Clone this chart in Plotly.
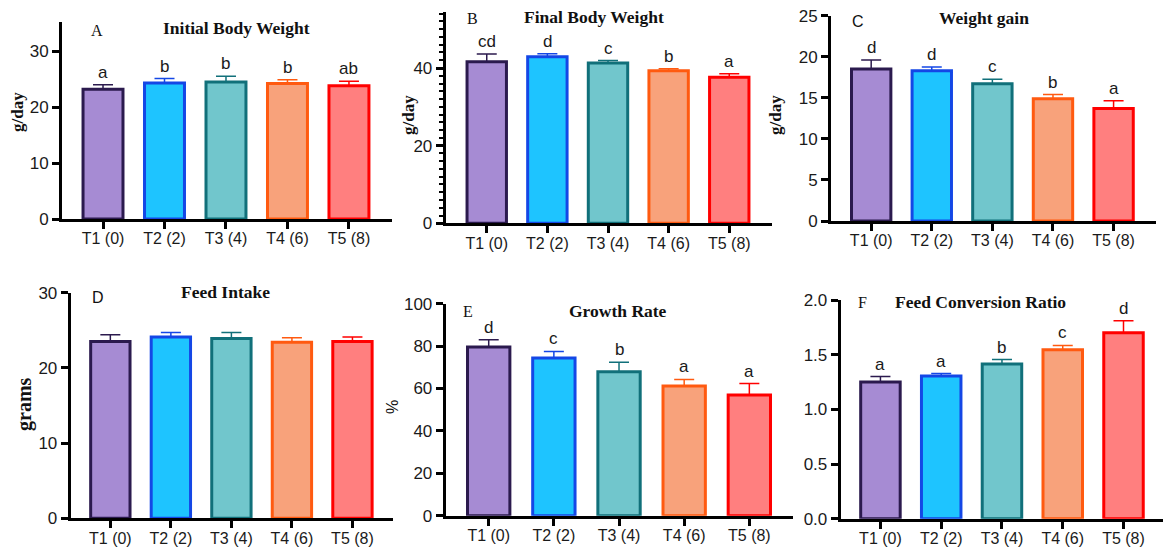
import plotly.graph_objects as go

W, H = 1165, 548

categories = ["T1 (0)", "T2 (2)", "T3 (4)", "T4 (6)", "T5 (8)"]

ibw_mean = [23.2, 24.3, 24.5, 24.2, 23.8]
ibw_err = [0.8, 0.8, 1.0, 0.7, 0.8]
ibw_letters = ["a", "b", "b", "b", "ab"]

fbw_mean = [41.6, 42.9, 41.3, 39.3, 37.6]
fbw_err = [2.0, 0.8, 0.6, 0.5, 0.9]
fbw_letters = ["cd", "d", "c", "b", "a"]

wg_mean = [18.5, 18.3, 16.7, 14.9, 13.7]
wg_err = [1.1, 0.45, 0.55, 0.5, 0.95]
wg_letters = ["d", "d", "c", "b", "a"]

fi_mean = [23.5, 24.1, 23.9, 23.4, 23.5]
fi_err = [0.9, 0.6, 0.8, 0.6, 0.6]
fi_letters = ["", "", "", "", ""]

gr_mean = [79.6, 74.4, 67.9, 61.2, 56.9]
gr_err = [3.4, 3.1, 4.5, 3.1, 5.4]
gr_letters = ["d", "c", "b", "a", "a"]

fcr_mean = [1.25, 1.305, 1.415, 1.545, 1.70]
fcr_err = [0.05, 0.022, 0.04, 0.04, 0.11]
fcr_letters = ["a", "a", "b", "c", "d"]

fill_colors = ["#A68BD3", "#1EC4FF", "#71C6CC", "#F8A27B", "#FF7F7F"]
line_colors = ["#2B1A4E", "#1447E6", "#11707A", "#FF5A10", "#FF0000"]

SANS = "Liberation Sans, Arial, sans-serif"
SERIF = "Liberation Serif, Times New Roman, serif"

def px_x(p):
    return p / W

def px_y(p):
    return 1 - p / H

panels = [
    dict(mean=ibw_mean, err=ibw_err, letters=ibw_letters, box=(62, 392, 22, 219),
         yr=[0, 35.2], xr=[-0.667, 4.70], dtick=10, minor=None, fmt=None),
    dict(mean=fbw_mean, err=fbw_err, letters=fbw_letters, box=(445.7, 771.7, 11.7, 223.3),
         yr=[0, 54.5], xr=[-0.677, 4.70], dtick=20, minor=2, fmt=None),
    dict(mean=wg_mean, err=wg_err, letters=wg_letters, box=(831, 1156, 15.7, 221),
         yr=[0, 25], xr=[-0.663, 4.70], dtick=5, minor=None, fmt=None),
    dict(mean=fi_mean, err=fi_err, letters=fi_letters, box=(70.7, 393, 292.7, 518.3),
         yr=[0, 30], xr=[-0.655, 4.67], dtick=10, minor=None, fmt=None),
    dict(mean=gr_mean, err=gr_err, letters=gr_letters, box=(445.7, 793, 303.7, 515.7),
         yr=[0, 100], xr=[-0.66, 4.67], dtick=20, minor=None, fmt=None),
    dict(mean=fcr_mean, err=fcr_err, letters=fcr_letters, box=(840.7, 1163, 300, 518.7),
         yr=[0, 2.0], xr=[-0.654, 4.65], dtick=0.5, minor=None, fmt=".1f"),
]

fig = go.Figure()
annotations = []
layout = dict(
    width=W, height=H, margin=dict(l=0, r=0, t=0, b=0, pad=0, autoexpand=False),
    paper_bgcolor="white", plot_bgcolor="white", showlegend=False,
    barmode="overlay",
)

for i, p in enumerate(panels):
    n = i + 1
    xa = "x" if n == 1 else f"x{n}"
    ya = "y" if n == 1 else f"y{n}"
    for j, cat in enumerate(categories):
        fig.add_trace(go.Bar(
            x=[cat], y=[p["mean"][j]], xaxis=xa, yaxis=ya, width=0.65,
            marker=dict(color=fill_colors[j], line=dict(color=line_colors[j], width=3)),
            error_y=dict(type="data", array=[p["err"][j]], arrayminus=[0], symmetric=False,
                         color=line_colors[j], thickness=1.5, width=10),
            hoverinfo="skip",
        ))
        if p["letters"][j]:
            annotations.append(dict(
                x=cat, y=p["mean"][j] + p["err"][j], xref=xa, yref=ya,
                text=p["letters"][j], showarrow=False, yanchor="bottom", yshift=1,
                font=dict(family=SANS, size=17, color="#1a1a1a"),
            ))
    x0, x1, y0, y1 = p["box"]
    xkey = "xaxis" if n == 1 else f"xaxis{n}"
    ykey = "yaxis" if n == 1 else f"yaxis{n}"
    layout[xkey] = dict(
        domain=[px_x(x0), px_x(x1)], anchor=ya, type="category", automargin=False,
        categoryorder="array", categoryarray=categories, range=p["xr"],
        showline=True, linecolor="black", linewidth=3, ticks="outside",
        ticklen=7, tickwidth=3, tickcolor="black", showgrid=False, zeroline=False,
        ticklabelstandoff=-4,
        tickfont=dict(family=SANS, size=16, color="#1a1a1a"), fixedrange=True,
    )
    yd = dict(
        domain=[px_y(y1), px_y(y0)], anchor=xa, range=p["yr"], dtick=p["dtick"],
        tick0=0, showline=True, linecolor="black", linewidth=3, ticks="outside",
        ticklen=7, tickwidth=2.5, tickcolor="black", showgrid=False, zeroline=False,
        automargin=False,
        tickfont=dict(family=SANS, size=17, color="#1a1a1a"), fixedrange=True,
    )
    if p["fmt"]:
        yd["tickformat"] = p["fmt"]
    if p["minor"]:
        yd["minor"] = dict(dtick=p["minor"], ticks="outside", ticklen=4, tickwidth=2,
                           tickcolor="black", showgrid=False)
    layout[ykey] = yd

def txt(text, x, y, family, size, bold=False, angle=0, color="#111"):
    annotations.append(dict(
        text=f"<b>{text}</b>" if bold else text, x=px_x(x), y=px_y(y),
        xref="paper", yref="paper", showarrow=False, xanchor="center", yanchor="middle",
        textangle=angle, font=dict(family=family, size=size, color=color),
    ))

# panel titles
txt("Initial Body Weight", 236, 28, SERIF, 17.5, bold=True)
txt("Final Body Weight", 594, 17, SERIF, 17.5, bold=True)
txt("Weight gain", 984, 18, SERIF, 17.5, bold=True)
txt("Feed Intake", 225, 292, SERIF, 17.5, bold=True)
txt("Growth Rate", 618, 311, SERIF, 17.5, bold=True)
txt("Feed Conversion Ratio", 980, 302, SERIF, 17.5, bold=True)

# panel letters
txt("A", 97, 31, SERIF, 16)
txt("B", 472, 18, SERIF, 16)
txt("C", 858, 21, SANS, 16)
txt("D", 98, 298, SANS, 16)
txt("E", 468, 311, SERIF, 16)
txt("F", 862, 302, SERIF, 16)

# y-axis titles
txt("g/day", 18, 112, SERIF, 17, bold=True, angle=-90)
txt("g/day", 408, 115, SERIF, 17, bold=True, angle=-90)
txt("g/day", 775, 115, SERIF, 17, bold=True, angle=-90)
txt("grams", 24, 404, SERIF, 20, bold=True, angle=-90)
txt("%", 392, 407, SANS, 16, angle=-90)

layout["annotations"] = annotations
fig.update_layout(**layout)
fig.write_html(
    "out.html",
    config={"displayModeBar": False},
    post_script="document.body.style.margin='0';document.body.style.overflow='hidden';",
)
